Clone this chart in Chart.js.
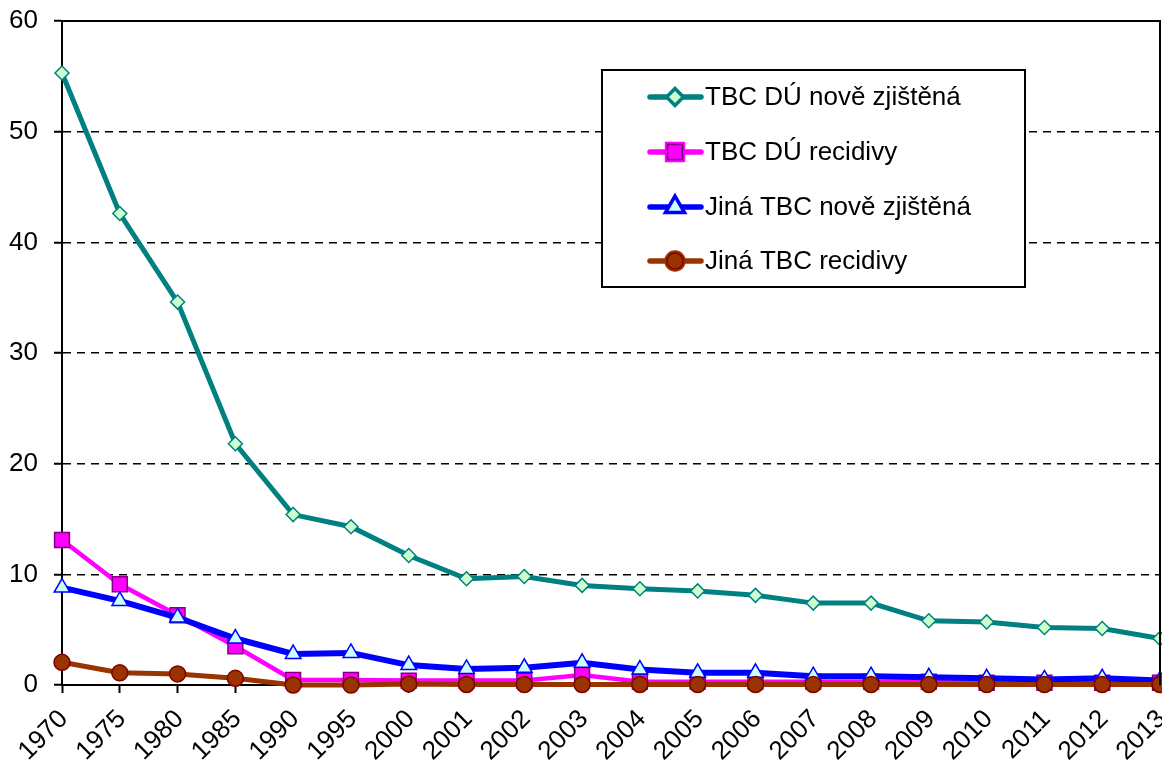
<!DOCTYPE html>
<html>
<head>
<meta charset="utf-8">
<script src="https://cdn.jsdelivr.net/npm/chart.js@4.4.1/dist/chart.umd.min.js"></script>
<style>
  html, body { margin: 0; padding: 0; background: #fff; }
  #wrap { width: 1162px; height: 760px; }
</style>
</head>
<body>
<div id="wrap"><canvas id="myChart" width="1162" height="760"></canvas></div>
<script>
const years = ['1970', '1975', '1980', '1985', '1990', '1995', '2000', '2001', '2002', '2003',
  '2004', '2005', '2006', '2007', '2008', '2009', '2010', '2011', '2012', '2013'];

const duNove = [55.3, 42.6, 34.6, 21.8, 15.4, 14.3, 11.7, 9.6, 9.8, 9.0,
  8.7, 8.5, 8.1, 7.4, 7.4, 5.8, 5.7, 5.2, 5.1, 4.2];
const duRecidivy = [13.1, 9.1, 6.3, 3.5, 0.45, 0.45, 0.4, 0.4, 0.4, 0.9,
  0.3, 0.3, 0.3, 0.3, 0.3, 0.3, 0.2, 0.2, 0.2, 0.2];
const jinaNove = [8.8, 7.6, 6.1, 4.2, 2.8, 2.9, 1.8, 1.45, 1.55, 2.0,
  1.4, 1.1, 1.1, 0.8, 0.8, 0.7, 0.6, 0.5, 0.6, 0.4];
const jinaRecidivy = [2.05, 1.1, 1.0, 0.6, 0.0, 0.0, 0.1, 0.05, 0.05, 0.05,
  0.05, 0.05, 0.05, 0.05, 0.05, 0.05, 0.05, 0.05, 0.05, 0.05];

const yMin = 0, yMax = 60, yStep = 10;
const font = 'Liberation Sans, Arial, sans-serif';

// legend box + solid frame on top/right
const framePlugin = {
  id: 'framePlugin',
  afterDraw(chart) {
    const ctx = chart.ctx;
    const a = chart.chartArea;
    ctx.save();
    ctx.strokeStyle = '#000';
    ctx.lineWidth = 2;
    ctx.setLineDash([]);
    ctx.beginPath();
    ctx.moveTo(a.left, a.top);
    ctx.lineTo(a.right, a.top);
    ctx.lineTo(a.right, a.bottom);
    ctx.stroke();

    // legend
    const bx = 602, by = 70, bw = 423, bh = 217;
    ctx.fillStyle = '#fff';
    ctx.fillRect(bx, by, bw, bh);
    ctx.strokeRect(bx, by, bw, bh);
    const rows = [97, 152, 207, 261];
    chart.data.datasets.forEach((ds, i) => {
      const y = rows[i];
      ctx.strokeStyle = ds.borderColor;
      ctx.lineWidth = 5.5;
      ctx.lineCap = 'round';
      ctx.beginPath();
      ctx.moveTo(650, y);
      ctx.lineTo(701, y);
      ctx.stroke();
      Chart.helpers.drawPoint(ctx, {
        pointStyle: ds.pointStyle,
        radius: ds.pointRadius,
        rotation: 0,
        borderWidth: ds.pointBorderWidth
      }, 675, y);
      ctx.fillStyle = ds.pointBackgroundColor;
      ctx.strokeStyle = ds.pointBorderColor;
      ctx.lineWidth = ds.pointBorderWidth;
      ctx.fill();
      ctx.stroke();
      ctx.fillStyle = '#000';
      ctx.font = '26px ' + font;
      ctx.textBaseline = 'middle';
      ctx.textAlign = 'left';
      ctx.fillText(ds.label, 705, y + 1);
    });
    ctx.restore();
  }
};

const ctx = document.getElementById('myChart').getContext('2d');
new Chart(ctx, {
  type: 'line',
  data: {
    labels: years,
    datasets: [
      {
        label: 'TBC DÚ nově zjištěná',
        data: duNove,
        borderColor: '#008080',
        borderWidth: 5,
        pointStyle: 'rectRot',
        pointRadius: 7,
        pointBackgroundColor: '#CCFFCC',
        pointBorderColor: '#008080',
        pointBorderWidth: 1.5,
        order: 4
      },
      {
        label: 'TBC DÚ recidivy',
        data: duRecidivy,
        borderColor: '#FF00FF',
        borderWidth: 4.5,
        pointStyle: 'rect',
        pointRadius: 10.5,
        pointBackgroundColor: '#FF00FF',
        pointBorderColor: '#800080',
        pointBorderWidth: 1.5,
        order: 3
      },
      {
        label: 'Jiná TBC nově zjištěná',
        data: jinaNove,
        borderColor: '#0000FF',
        borderWidth: 6,
        pointStyle: 'triangle',
        pointRadius: 9,
        pointBackgroundColor: '#CCFFFF',
        pointBorderColor: '#0000FF',
        pointBorderWidth: 1.5,
        order: 2
      },
      {
        label: 'Jiná TBC recidivy',
        data: jinaRecidivy,
        borderColor: '#993300',
        borderWidth: 5,
        pointStyle: 'circle',
        pointRadius: 8,
        pointBackgroundColor: '#993300',
        pointBorderColor: '#800000',
        pointBorderWidth: 1.5,
        order: 1
      }
    ]
  },
  options: {
    responsive: false,
    animation: false,
    clip: false,
    layout: { autoPadding: false, padding: { top: 21, right: 2, left: 0, bottom: 0 } },
    plugins: {
      legend: { display: false },
      tooltip: { enabled: false }
    },
    elements: { line: { tension: 0 } },
    scales: {
      x: {
        offset: false,
        grid: {
          drawOnChartArea: false,
          drawTicks: true,
          tickLength: 8,
          tickColor: '#000',
          tickWidth: 2
        },
        border: { display: true, color: '#000', width: 2 },
        ticks: {
          autoSkip: false,
          maxRotation: 45,
          minRotation: 45,
          padding: 11,
          labelOffset: 2,
          color: '#000',
          font: { family: font, size: 26 }
        },
        afterFit(scale) {
          scale.height = 75;
          scale.paddingLeft = 0;
          scale.paddingRight = 0;
        }
      },
      y: {
        min: yMin,
        max: yMax,
        grid: {
          color: '#000',
          lineWidth: 1.5,
          tickLength: 8,
          tickColor: '#000',
          tickWidth: 2
        },
        border: { display: true, color: '#000', width: 2, dash: [8, 6] },
        ticks: {
          stepSize: yStep,
          padding: 16,
          color: '#000',
          font: { family: font, size: 26 }
        },
        afterFit(scale) {
          scale.width = 62;
          scale.paddingTop = 0;
          scale.paddingBottom = 0;
        }
      }
    }
  },
  plugins: [framePlugin]
});
</script>
</body>
</html>
